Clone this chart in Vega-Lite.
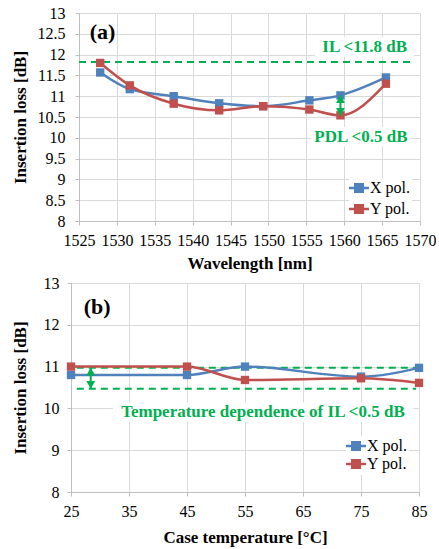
{
  "$schema": "https://vega.github.io/schema/vega-lite/v6.json",
  "background": "white",
  "padding": {"left": 10, "top": 5, "right": 0, "bottom": 5},
  "spacing": 4,
  "resolve": {
    "scale": {"x": "independent", "y": "independent", "color": "independent"},
    "legend": {"color": "independent"}
  },
  "config": {
    "font": "Liberation Serif",
    "view": {"stroke": null},
    "axis": {
      "labelFont": "Liberation Serif",
      "labelFontSize": 16,
      "labelColor": "black",
      "titleFont": "Liberation Serif",
      "titleFontSize": 17,
      "titleFontWeight": "bold",
      "titleColor": "black",
      "gridColor": "#d9d9d9",
      "domainColor": "#bfbfbf",
      "tickColor": "#bfbfbf",
      "tickSize": 4,
      "labelPadding": 7,
      "labelFlush": false,
      "labelOverlap": false
    },
    "legend": {
      "orient": "none",
      "title": null,
      "labelFont": "Liberation Serif",
      "labelFontSize": 16,
      "labelColor": "black",
      "fillColor": "white",
      "padding": 2,
      "symbolType": "M-3.2,0L3.2,0M-1.2,-1.2L1.2,-1.2L1.2,1.2L-1.2,1.2Z",
      "symbolSize": 39,
      "symbolStrokeWidth": 2.5,
      "labelOffset": 3
    }
  },
  "datasets": {
    "wl": [
      {"x": 1527.8, "y": 11.57, "pol": "X pol."},
      {"x": 1531.7, "y": 11.17, "pol": "X pol."},
      {"x": 1537.5, "y": 11.0, "pol": "X pol."},
      {"x": 1543.5, "y": 10.83, "pol": "X pol."},
      {"x": 1549.3, "y": 10.76, "pol": "X pol."},
      {"x": 1555.4, "y": 10.9, "pol": "X pol."},
      {"x": 1559.5, "y": 11.02, "pol": "X pol."},
      {"x": 1565.5, "y": 11.45, "pol": "X pol."},
      {"x": 1527.8, "y": 11.8, "pol": "Y pol."},
      {"x": 1531.7, "y": 11.26, "pol": "Y pol."},
      {"x": 1537.5, "y": 10.82, "pol": "Y pol."},
      {"x": 1543.5, "y": 10.66, "pol": "Y pol."},
      {"x": 1549.3, "y": 10.76, "pol": "Y pol."},
      {"x": 1555.4, "y": 10.68, "pol": "Y pol."},
      {"x": 1559.5, "y": 10.54, "pol": "Y pol."},
      {"x": 1565.5, "y": 11.3, "pol": "Y pol."}
    ],
    "wlRef": [{"x": 1525, "x2": 1569.3, "y": 11.82}],
    "wlArrow": [{"x": 1559.5, "y": 10.53, "y2": 11.02}],
    "wlNote": [
      {"x": 1562.7, "y": 12.19, "label": "IL <11.8 dB"},
      {"x": 1562.2, "y": 10.03, "label": "PDL <0.5 dB"}
    ],
    "wlTag": [{"x": 1528.1, "y": 12.55, "label": "(a)"}],
    "tc": [
      {"x": 25, "y": 10.8, "pol": "X pol."},
      {"x": 45, "y": 10.8, "pol": "X pol."},
      {"x": 55, "y": 11.0, "pol": "X pol."},
      {"x": 75, "y": 10.76, "pol": "X pol."},
      {"x": 85, "y": 10.97, "pol": "X pol."},
      {"x": 25, "y": 11.0, "pol": "Y pol."},
      {"x": 45, "y": 11.0, "pol": "Y pol."},
      {"x": 55, "y": 10.68, "pol": "Y pol."},
      {"x": 75, "y": 10.72, "pol": "Y pol."},
      {"x": 85, "y": 10.61, "pol": "Y pol."}
    ],
    "tcRef": [
      {"x": 26, "x2": 84.5, "y": 10.97},
      {"x": 26, "x2": 84.5, "y": 10.47}
    ],
    "tcArrow": [{"x": 28.4, "y": 10.47, "y2": 10.97}],
    "tcNote": [{"x": 58.1, "y": 9.91, "label": "Temperature dependence of IL <0.5 dB"}],
    "tcTag": [{"x": 29.5, "y": 12.43, "label": "(b)"}]
  },
  "vconcat": [
    {
      "spacing": 0,
      "resolve": {
        "scale": {"x": "independent", "y": "independent", "color": "independent"},
        "legend": {"color": "independent"}
      },
      "hconcat": [
        {"width": 1, "height": 1, "data": {"values": []}, "mark": "point"},
        {
          "width": 341,
          "height": 208,
          "encoding": {
            "x": {
              "field": "x", "type": "quantitative",
              "scale": {"domain": [1525, 1570], "nice": false, "zero": false},
              "axis": {"values": [1525, 1530, 1535, 1540, 1545, 1550, 1555, 1560, 1565, 1570], "format": "d", "title": "Wavelength [nm]", "titlePadding": 7}
            },
            "y": {
              "field": "y", "type": "quantitative",
              "scale": {"domain": [8, 13], "nice": false, "zero": false},
              "axis": {"values": [8, 8.5, 9, 9.5, 10, 10.5, 11, 11.5, 12, 12.5, 13], "format": "~g", "title": "Insertion loss [dB]", "titlePadding": 7.7, "labelPadding": 10}
            }
          },
          "layer": [
            {
              "data": {"name": "wlNote"},
              "mark": {"type": "point", "shape": "M-1,-0.2H1V0.2H-1Z", "size": 9800, "filled": true, "color": "white", "opacity": 1}
            },
            {
              "data": {"name": "wlRef"},
              "mark": {"type": "rule", "color": "#00B050", "strokeWidth": 2, "strokeDash": [7, 5]},
              "encoding": {"x2": {"field": "x2"}}
            },
            {
              "data": {"name": "wl"},
              "mark": {"type": "line", "interpolate": "monotone", "strokeWidth": 2.5},
              "encoding": {
                "color": {
                  "field": "pol", "type": "nominal",
                  "scale": {"domain": ["X pol.", "Y pol."], "range": ["#4F81BD", "#C0504D"]},
                  "legend": {"legendX": 270, "legendY": 165, "rowPadding": 3}
                }
              }
            },
            {
              "data": {"name": "wl"},
              "mark": {"type": "point", "shape": "square", "filled": true, "size": 70, "opacity": 1},
              "encoding": {
                "color": {
                  "field": "pol", "type": "nominal",
                  "scale": {"domain": ["X pol.", "Y pol."], "range": ["#4F81BD", "#C0504D"]},
                  "legend": {"legendX": 270, "legendY": 165, "rowPadding": 3}
                }
              }
            },
            {
              "data": {"name": "wlArrow"},
              "mark": {"type": "rule", "color": "#00B050", "strokeWidth": 2},
              "encoding": {"y2": {"field": "y2"}}
            },
            {
              "data": {"name": "wlArrow"},
              "mark": {"type": "point", "shape": "triangle-down", "filled": true, "color": "#00B050", "size": 80, "opacity": 1, "yOffset": -3.8},
              "encoding": {}
            },
            {
              "data": {"name": "wlArrow"},
              "mark": {"type": "point", "shape": "triangle-up", "filled": true, "color": "#00B050", "size": 80, "opacity": 1, "yOffset": 3.8},
              "encoding": {"y": {"field": "y2", "type": "quantitative"}}
            },
            {
              "data": {"name": "wlNote"},
              "mark": {"type": "text", "font": "Liberation Serif", "fontSize": 17, "fontWeight": "bold", "color": "#00B050", "align": "center", "baseline": "middle"},
              "encoding": {"text": {"field": "label"}}
            },
            {
              "data": {"name": "wlTag"},
              "mark": {"type": "text", "font": "Liberation Serif", "fontSize": 22, "fontWeight": "bold", "color": "black", "align": "center", "baseline": "middle"},
              "encoding": {"text": {"field": "label"}}
            }
          ]
        }
      ]
    },
    {
      "spacing": 0,
      "resolve": {
        "scale": {"x": "independent", "y": "independent", "color": "independent"},
        "legend": {"color": "independent"}
      },
      "hconcat": [
        {"width": 1, "height": 1, "data": {"values": []}, "mark": "point"},
        {
          "width": 348,
          "height": 209,
          "encoding": {
            "x": {
              "field": "x", "type": "quantitative",
              "scale": {"domain": [25, 85], "nice": false, "zero": false},
              "axis": {"values": [25, 35, 45, 55, 65, 75, 85], "format": "d", "title": "Case temperature [°C]", "titlePadding": 10}
            },
            "y": {
              "field": "y", "type": "quantitative",
              "scale": {"domain": [8, 13], "nice": false, "zero": false},
              "axis": {"values": [8, 9, 10, 11, 12, 13], "format": "d", "title": "Insertion loss [dB]", "titlePadding": 13.3, "labelPadding": 8}
            }
          },
          "layer": [
            {
              "data": {"name": "tcNote"},
              "mark": {"type": "point", "shape": "M-1,-0.065H1V0.065H-1Z", "size": 90000, "filled": true, "color": "white", "opacity": 1}
            },
            {
              "data": {"name": "tcRef"},
              "mark": {"type": "rule", "color": "#00B050", "strokeWidth": 2, "strokeDash": [7, 5]},
              "encoding": {"x2": {"field": "x2"}}
            },
            {
              "data": {"name": "tc"},
              "mark": {"type": "line", "interpolate": "monotone", "strokeWidth": 2.5},
              "encoding": {
                "color": {
                  "field": "pol", "type": "nominal",
                  "scale": {"domain": ["X pol.", "Y pol."], "range": ["#4F81BD", "#C0504D"]},
                  "legend": {"legendX": 275, "legendY": 153, "rowPadding": 0}
                }
              }
            },
            {
              "data": {"name": "tc"},
              "mark": {"type": "point", "shape": "square", "filled": true, "size": 70, "opacity": 1},
              "encoding": {
                "color": {
                  "field": "pol", "type": "nominal",
                  "scale": {"domain": ["X pol.", "Y pol."], "range": ["#4F81BD", "#C0504D"]},
                  "legend": {"legendX": 275, "legendY": 153, "rowPadding": 0}
                }
              }
            },
            {
              "data": {"name": "tcArrow"},
              "mark": {"type": "rule", "color": "#00B050", "strokeWidth": 2},
              "encoding": {"y2": {"field": "y2"}}
            },
            {
              "data": {"name": "tcArrow"},
              "mark": {"type": "point", "shape": "triangle-down", "filled": true, "color": "#00B050", "size": 80, "opacity": 1, "yOffset": -3.8},
              "encoding": {}
            },
            {
              "data": {"name": "tcArrow"},
              "mark": {"type": "point", "shape": "triangle-up", "filled": true, "color": "#00B050", "size": 80, "opacity": 1, "yOffset": 3.8},
              "encoding": {"y": {"field": "y2", "type": "quantitative"}}
            },
            {
              "data": {"name": "tcNote"},
              "mark": {"type": "text", "font": "Liberation Serif", "fontSize": 17, "fontWeight": "bold", "color": "#00B050", "align": "center", "baseline": "middle"},
              "encoding": {"text": {"field": "label"}}
            },
            {
              "data": {"name": "tcTag"},
              "mark": {"type": "text", "font": "Liberation Serif", "fontSize": 22, "fontWeight": "bold", "color": "black", "align": "center", "baseline": "middle"},
              "encoding": {"text": {"field": "label"}}
            }
          ]
        }
      ]
    }
  ]
}
